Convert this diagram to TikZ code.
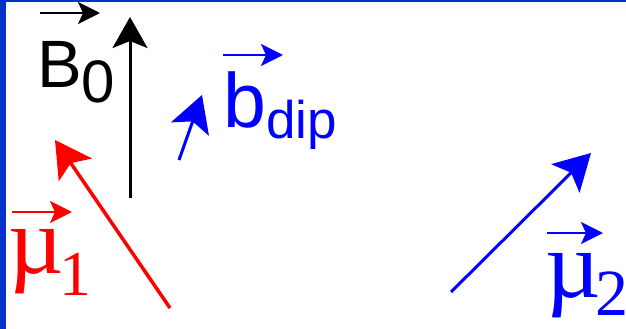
\documentclass[tikz,border=0pt]{standalone}
\usepackage{fontspec}
\setmainfont{Liberation Serif}
\newfontfamily\labsans{Liberation Sans}
\usetikzlibrary{arrows.meta}
\definecolor{slideblue}{RGB}{0,51,204}
\definecolor{vblue}{RGB}{0,0,255}
\definecolor{vred}{RGB}{255,0,0}

\tikzset{
  vec/.style={line width=3pt, -{Stealth[length=36pt,width=40pt,inset=8pt]}},
  overvec/.style={line width=2.5pt, -{Stealth[length=22pt,width=22pt,inset=5pt]}},
  lbl/.style={inner sep=0pt, anchor=base west},
}

\begin{document}
\begin{tikzpicture}[x=1pt,y=-1pt]
  \useasboundingbox (0,0) rectangle (626,329);
  %% Slide frame
  \fill[slideblue] (0,0) rectangle (6,329);
  \fill[slideblue] (0,0) rectangle (626,2);

  %% Applied field B0
  \coordinate (Btail) at (130,198);
  \coordinate (Btip) at (130,17);
  \draw[line width=3pt, black, -{Stealth[length=31pt,width=35pt,inset=7pt]}] (Btail) -- (Btip);
  \node[lbl, font={\labsans\fontsize{67}{67}\selectfont}] (Blabel) at (37,88)
    {B\raisebox{-14pt}{\fontsize{60}{60}\selectfont 0}};
  \draw[overvec, black] ([shift={(3,-75)}]Blabel.base west) -- ++(60,0);

  %% Dipolar field
  \coordinate (btail) at (179,160);
  \coordinate (btip) at (202,95);
  \draw[vec, vblue] (btail) -- (btip);
  \node[lbl, vblue, font={\labsans\fontsize{77}{77}\selectfont}] (blabel) at (223,127)
    {b\raisebox{-11pt}{\fontsize{53}{53}\selectfont dip}};
  \draw[overvec, vblue] ([shift={(0,-72)}]blabel.base west) -- ++(60,0);

  %% Moment 1
  \coordinate (mutail1) at (170,308);
  \coordinate (mutip1) at (55,140);
  \draw[vec, vred, line width=3.5pt] (mutail1) -- (mutip1);
  \node[lbl, vred, font={\fontsize{96}{96}\selectfont}] (mulabel1) at (8,273)
    {µ\kern-4pt\raisebox{-22pt}{\fontsize{64}{64}\selectfont 1}};
  \draw[overvec, vred] ([shift={(4,-61)}]mulabel1.base west) -- ++(60,0);

  %% Moment 2
  \coordinate (mutail2) at (451,292);
  \coordinate (mutip2) at (591,153);
  \draw[vec, vblue] (mutail2) -- (mutip2);
  \node[lbl, vblue, font={\fontsize{96}{96}\selectfont}] (mulabel2) at (545,297)
    {µ\kern-5pt\raisebox{-18pt}{\fontsize{66}{66}\selectfont 2}};
  \draw[overvec, vblue] ([shift={(2,-64)}]mulabel2.base west) -- ++(56,0);
\end{tikzpicture}
\end{document}
